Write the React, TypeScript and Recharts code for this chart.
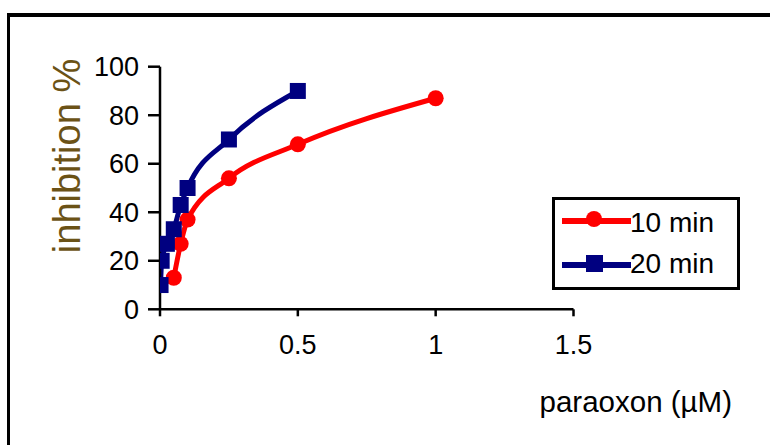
import { LineChart, Line, XAxis, YAxis } from 'recharts';

// paraoxon concentration (µM) and inhibition (%)
const min10X = [0.05, 0.075, 0.1, 0.25, 0.5, 1];
const min10Y = [13, 27, 37, 54, 68, 87];
const min20X = [0.002, 0.006, 0.025, 0.05, 0.075, 0.1, 0.25, 0.5];
const min20Y = [10, 20, 27, 33, 43, 50, 70, 90];

const seriesNames = ['10 min', '20 min'];
const seriesColors = ['#FF0000', '#000080'];

const xTicks = [0, 0.5, 1, 1.5];
const yTicks = [0, 20, 40, 60, 80, 100];

const toPoints = (xs: number[], ys: number[]) => xs.map((x, i) => ({ x, y: ys[i] }));
const min10 = toPoints(min10X, min10Y);
const min20 = toPoints(min20X, min20Y);

const FONT = '"Liberation Sans", Arial, sans-serif';

const RoundDot = (p: any) => (
  <circle key={`r${p.index}`} cx={p.cx} cy={p.cy} r={8} fill={seriesColors[0]} />
);
const SquareDot = (p: any) => (
  <rect key={`s${p.index}`} x={p.cx - 8} y={p.cy - 8} width={16} height={16} fill={seriesColors[1]} />
);

const LegendBox = () => (
  <svg
    width={188}
    height={93}
    style={{ position: 'absolute', left: 552, top: 197, fontFamily: FONT }}
  >
    <rect x={1.5} y={1.5} width={185} height={90} fill="#fff" stroke="#000" strokeWidth={3} />
    {seriesNames.map((name, i) => {
      const cy = i === 0 ? 24 : 68;
      return (
        <g key={name}>
          <line x1={10} x2={79} y1={cy} y2={cy} stroke={seriesColors[i]} strokeWidth={6} />
          {i === 0 ? (
            <circle cx={42} cy={cy - 2} r={8} fill={seriesColors[i]} />
          ) : (
            <rect x={34} y={cy - 10} width={17} height={17} fill={seriesColors[i]} />
          )}
          <text x={78} y={i === 0 ? 35 : 76} fontSize={28} fill="#000">
            {name}
          </text>
        </g>
      );
    })}
  </svg>
);

export default function App() {
  return (
    <div
      style={{
        position: 'absolute',
        left: 0,
        top: 0,
        width: 770,
        height: 445,
        overflow: 'hidden',
        background: '#fff',
        fontFamily: FONT,
      }}
    >
      {/* outer frame, runs off the right and bottom edges */}
      <div
        style={{
          position: 'absolute',
          left: 7,
          top: 13,
          width: 820,
          height: 500,
          borderLeft: '3px solid #000',
          borderTop: '4px solid #000',
        }}
      />
      <div style={{ position: 'absolute', left: 0, top: 0 }}>
        <LineChart
          width={770}
          height={445}
          margin={{ top: 66.7, right: 196.5, bottom: 25.7, left: 0 }}
        >
          <XAxis
            dataKey="x"
            type="number"
            domain={[0, 1.5]}
            ticks={xTicks}
            allowDataOverflow
            height={110}
            stroke="#000"
            strokeWidth={2.5}
            tickSize={7}
            tickMargin={19}
            tick={{ fontSize: 27, fill: '#000', fontFamily: FONT }}
            label={{
              value: 'paraoxon (µM)',
              position: 'insideBottom',
              dx: 269,
              dy: -2,
              fontSize: 29.5,
              fill: '#000',
              fontFamily: FONT,
            }}
          />
          <YAxis
            type="number"
            domain={[0, 100]}
            ticks={yTicks}
            width={160}
            stroke="#000"
            strokeWidth={2.5}
            tickSize={12}
            tickMargin={9}
            tick={{ fontSize: 27, fill: '#000', fontFamily: FONT }}
            label={{
              value: 'inhibition %',
              angle: -90,
              position: 'center',
              dx: -13,
              dy: -32,
              fontSize: 38,
              fill: '#6b5216',
              fontFamily: FONT,
            }}
          />
          <Line
            data={min10}
            dataKey="y"
            name={seriesNames[0]}
            type="monotone"
            stroke={seriesColors[0]}
            strokeWidth={5}
            dot={RoundDot}
            activeDot={false}
            isAnimationActive={false}
          />
          <Line
            data={min20}
            dataKey="y"
            name={seriesNames[1]}
            type="monotone"
            stroke={seriesColors[1]}
            strokeWidth={5}
            dot={SquareDot}
            activeDot={false}
            isAnimationActive={false}
          />
        </LineChart>
      </div>
      <LegendBox />
    </div>
  );
}
